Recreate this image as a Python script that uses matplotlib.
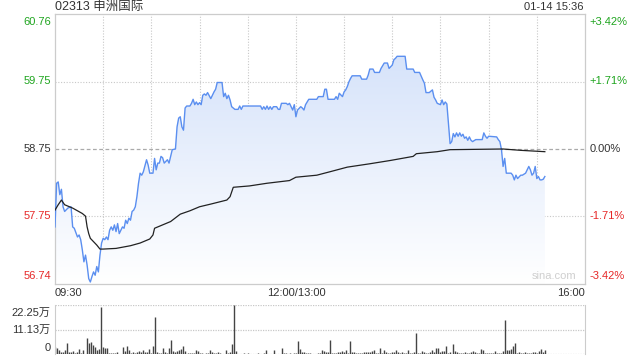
"""Intraday price and volume chart for 02313 申洲国际 (sina style)."""

import matplotlib

matplotlib.use("Agg")
import matplotlib.pyplot as plt
import numpy as np
from matplotlib.colors import LinearSegmentedColormap

TITLE = "02313 申洲国际"
STAMP = "01-14 15:36"
PREV_CLOSE = 58.75
PRICE_LOW = 56.74
PRICE_HIGH = 60.76
VOLUME_MAX = 222500
SESSION_MINUTES = 330

# minutes since 09:30 (lunch break removed) and last price
price_minutes = [
    0, 1, 2, 3, 4, 5, 6, 8, 10, 11, 12, 14, 15, 16, 17, 18, 19, 20, 21, 22,
    23, 24, 25, 26, 27, 28, 29, 30, 31, 32, 33, 34, 35, 36, 37, 38, 39, 40, 42, 43,
    44, 45, 46, 47, 48, 49, 50, 51, 52, 53, 54, 55, 57, 58, 59, 61, 62, 63, 64, 65,
    66, 67, 68, 70, 71, 72, 73, 75, 76, 77, 78, 79, 80, 81, 82, 84, 85, 86, 87, 88,
    89, 90, 91, 92, 93, 94, 95, 97, 98, 99, 100, 101, 104, 105, 106, 107, 108, 109, 110, 111,
    112, 114, 115, 116, 117, 128, 129, 130, 131, 132, 133, 134, 135, 136, 138, 139, 140, 141, 144, 145,
    146, 147, 148, 149, 150, 151, 153, 154, 155, 156, 157, 158, 163, 164, 167, 168, 169, 170, 174, 175,
    176, 177, 179, 180, 181, 182, 183, 184, 185, 190, 191, 194, 195, 196, 198, 199, 202, 203, 205, 207,
    208, 210, 211, 212, 213, 218, 219, 223, 224, 227, 229, 230, 231, 233, 235, 236, 237, 238, 239, 240,
    241, 242, 243, 244, 245, 246, 247, 248, 249, 250, 251, 252, 253, 254, 255, 256, 257, 258, 259, 260,
    262, 266, 267, 268, 269, 270, 275, 276, 277, 278, 279, 280, 281, 284, 285, 286, 287, 288, 290, 291,
    293, 294, 295, 296, 297, 298, 299, 300, 301, 302, 303, 304, 305,
]
price_values = [
    57.59, 58.24, 58.26, 58.07, 58.15, 57.89, 57.82, 57.87, 57.89, 57.59,
    57.57, 57.44, 57.47, 57.40, 57.25, 57.07, 57.17, 57.02, 56.82, 56.77,
    56.85, 56.92, 56.87, 57.00, 56.92, 57.17, 57.35, 57.42, 57.40, 57.44,
    57.40, 57.54, 57.59, 57.54, 57.62, 57.52, 57.64, 57.49, 57.59, 57.57,
    57.69, 57.64, 57.72, 57.69, 57.82, 57.84, 57.89, 58.04, 58.24, 58.39,
    58.36, 58.41, 58.59, 58.51, 58.39, 58.39, 58.61, 58.44, 58.54, 58.54,
    58.64, 58.62, 58.54, 58.59, 58.54, 58.64, 58.74, 58.75, 59.08, 59.21,
    59.23, 59.08, 59.03, 59.36, 59.39, 59.39, 59.43, 59.49, 59.41, 59.45,
    59.41, 59.44, 59.41, 59.55, 59.57, 59.55, 59.59, 59.50, 59.55, 59.60,
    59.64, 59.74, 59.74, 59.53, 59.58, 59.50, 59.55, 59.48, 59.38, 59.36,
    59.34, 59.34, 59.39, 59.34, 59.39, 59.39, 59.34, 59.38, 59.34, 59.39,
    59.34, 59.38, 59.34, 59.38, 59.38, 59.34, 59.34, 59.43, 59.43, 59.41,
    59.43, 59.38, 59.33, 59.41, 59.23, 59.33, 59.38, 59.36, 59.33, 59.41,
    59.45, 59.49, 59.49, 59.53, 59.53, 59.64, 59.64, 59.49, 59.49, 59.53,
    59.49, 59.58, 59.53, 59.60, 59.63, 59.68, 59.75, 59.80, 59.84, 59.84,
    59.79, 59.79, 59.85, 59.94, 59.94, 59.89, 59.89, 59.95, 60.03, 60.03,
    59.95, 60.00, 60.08, 60.10, 60.13, 60.13, 59.94, 59.94, 59.89, 59.89,
    59.78, 59.73, 59.59, 59.59, 59.63, 59.52, 59.48, 59.43, 59.42, 59.41,
    59.48, 59.41, 59.45, 59.42, 59.13, 58.83, 58.86, 58.98, 58.93, 58.99,
    58.94, 58.99, 58.94, 58.97, 58.91, 58.93, 58.88, 58.93, 58.88, 58.86,
    58.89, 58.89, 58.99, 58.94, 58.91, 58.94, 58.93, 58.89, 58.86, 58.74,
    58.49, 58.61, 58.39, 58.39, 58.36, 58.29, 58.36, 58.31, 58.36, 58.36,
    58.39, 58.44, 58.49, 58.44, 58.36, 58.39, 58.49, 58.31, 58.34, 58.29,
    58.29, 58.30, 58.34,
]

# running average price
avg_minutes = [
    0, 2, 4, 6, 9, 11, 14, 17, 19, 20, 21, 22, 24, 26, 28, 30, 38, 47, 53, 59,
    61, 62, 65, 72, 78, 84, 90, 97, 107, 109, 111, 121, 132, 146, 150, 163, 171, 182, 196, 209,
    223, 225, 238, 246, 279, 290, 305,
]
avg_values = [
    57.84, 57.92, 57.99, 57.92, 57.89, 57.87, 57.83, 57.79, 57.75, 57.59,
    57.49, 57.42, 57.37, 57.32, 57.26, 57.26, 57.27, 57.31, 57.35, 57.41,
    57.47, 57.57, 57.60, 57.67, 57.78, 57.83, 57.89, 57.93, 57.99, 58.04,
    58.18, 58.20, 58.24, 58.28, 58.33, 58.36, 58.41, 58.48, 58.53, 58.58,
    58.64, 58.68, 58.71, 58.74, 58.75, 58.73, 58.71,
]

# traded volume per bar, evenly spaced from 09:30 to 15:35
volumes = [
    31600, 27100, 19500, 12000, 12000, 19500, 52600, 12000, 9000, 16500,
    4500, 12000, 24000, 4500, 19500, 3000, 75200, 52600, 57100, 42100,
    34600, 19500, 24000, 211900, 34600, 30100, 27100, 7500, 4500, 7500,
    4500, 12000, 1500, 3000, 34600, 16500, 37600, 19500, 4500, 12000,
    7500, 9000, 16500, 12000, 19500, 12000, 12000, 24000, 7500, 37600,
    169800, 9000, 7500, 4500, 27100, 12000, 7500, 27100, 64600, 16500,
    12000, 16500, 19500, 22500, 37600, 16500, 7500, 4500, 4500, 7500,
    19500, 16500, 4500, 7500, 3000, 7500, 7500, 19500, 12000, 7500,
    4500, 9000, 7500, 1500, 3000, 19500, 7500, 12000, 46600, 222400,
    15000, 1500, 1500, 3000, 4500, 1500, 4500, 1500, 1500, 3000,
    1500, 4500, 1500, 3000, 4500, 19500, 1500, 3000, 1500, 19500,
    1500, 1500, 1500, 27100, 7500, 4500, 1500, 7500, 3000, 4500,
    4500, 60100, 24000, 12000, 12000, 4500, 7500, 7500, 1500,
    1500, 1500, 4500, 4500, 19500, 16500, 9000, 12000, 64600, 4500,
    4500, 7500, 9000, 12000, 15000, 9000, 19500, 4500, 60100, 12000,
    12000, 7500, 4500, 4500, 4500, 12000, 9000, 12000, 9000, 15000,
    19500, 7500, 7500, 27100, 4500, 19500, 12000, 4500, 4500, 12000,
    9000, 19500, 12000, 7500, 9000, 4500, 7500, 19500, 4500, 7500,
    9000, 97700, 7500, 4500, 16500, 12000, 7500, 4500, 12000, 19500,
    12000, 27100, 30100, 12000, 16500, 15000, 37600, 7500, 12000, 46600,
    16500, 12000, 4500, 4500, 7500, 12000, 7500, 4500, 12000, 16500,
    12000, 7500, 4500, 22500, 19500, 7500, 4500, 7500, 7500, 4500,
    16500, 4500, 4500, 7500, 15000, 154800, 19500, 19500, 22500, 37600,
    52600, 7500, 12000, 4500, 7500, 12000, 4500, 4500, 7500, 12000,
    9000, 7500, 16500, 22500, 12000, 19500,
]

left_ticks = ["60.76", "59.75", "58.75", "57.75", "56.74"]
right_ticks = ["+3.42%", "+1.71%", "0.00%", "-1.71%", "-3.42%"]
tick_colors = ["#1fa51f", "#1fa51f", "#333333", "#e62828", "#e62828"]
volume_ticks = ["22.25万", "11.13万", "0"]

LINE_BLUE = "#5b8ff0"
GRID = "#c8c8c8"
FONT = ["Liberation Sans", "Noto Sans CJK SC", "DejaVu Sans"]

plt.rcParams["font.family"] = FONT

figure = plt.figure(figsize=(6.4, 3.6), dpi=100)
price_ax = figure.add_axes([55 / 640, 1 - 284 / 360, 530 / 640, 270 / 360])
volume_ax = figure.add_axes([55 / 640, 1 - 354.3 / 360, 530 / 640, 49.3 / 360])

# price panel
price_ax.set_xlim(0, SESSION_MINUTES)
price_ax.set_ylim(PRICE_LOW, PRICE_HIGH)
for minute in range(30, SESSION_MINUTES, 30):
    price_ax.axvline(minute, color=GRID, lw=0.8, ls=(0, (1, 1.5)), zorder=0)
mid_upper = (PRICE_HIGH + PREV_CLOSE) / 2
mid_lower = (PRICE_LOW + PREV_CLOSE) / 2
for level in (mid_upper, mid_lower):
    price_ax.axhline(level, color=GRID, lw=0.8, ls=(0, (1, 1.5)), zorder=0)
price_ax.axhline(PREV_CLOSE, color="#aaaaaa", lw=0.9, ls=(0, (3, 2)), zorder=0)

# gradient fill below the price line
fill = price_ax.fill_between(price_minutes, price_values, PRICE_LOW, color="none", lw=0)
gradient_cmap = LinearSegmentedColormap.from_list("fade", ["#ffffff", "#d6e3fa"])
gradient = np.linspace(0, 1, 256).reshape(-1, 1)
image = price_ax.imshow(
    gradient,
    cmap=gradient_cmap,
    aspect="auto",
    origin="lower",
    extent=(0, SESSION_MINUTES, PRICE_LOW, PRICE_HIGH - 0.6),
    zorder=1,
)
image.set_clip_path(fill.get_paths()[0], transform=price_ax.transData)
price_ax.set_ylim(PRICE_LOW, PRICE_HIGH)

price_ax.plot(price_minutes, price_values, color=LINE_BLUE, lw=1.0, zorder=3)
price_ax.plot(avg_minutes, avg_values, color="#222222", lw=0.9, zorder=4)

price_ax.set_xticks([])
price_ax.set_yticks([])
for spine in price_ax.spines.values():
    spine.set_color("#cccccc")
    spine.set_linewidth(0.9)

tick_levels = [PRICE_HIGH, mid_upper, PREV_CLOSE, mid_lower, PRICE_LOW]
for level, left, right, color in zip(tick_levels, left_ticks, right_ticks, tick_colors):
    if level == PRICE_HIGH:
        va, offset = "top", -2
    elif level == PRICE_LOW:
        va, offset = "bottom", 2
    else:
        va, offset = "center", 0
    price_ax.annotate(left, (0, level), xycoords=("axes fraction", "data"),
                      xytext=(-3, offset), textcoords="offset points",
                      ha="right", va=va, fontsize=8, color=color)
    price_ax.annotate(right, (1, level), xycoords=("axes fraction", "data"),
                      xytext=(3, offset), textcoords="offset points",
                      ha="left", va=va, fontsize=8, color=color)

figure.text(55 / 640, 1 - 7 / 360, TITLE, ha="left", va="center", fontsize=9, color="#333333")
figure.text(583 / 640, 1 - 7 / 360, STAMP, ha="right", va="center", fontsize=8, color="#333333")
figure.text(55 / 640, 1 - 293 / 360, "09:30", ha="left", va="center", fontsize=8, color="#333333")
figure.text(296 / 640, 1 - 293 / 360, "12:00/13:00", ha="center", va="center", fontsize=8, color="#333333")
figure.text(585 / 640, 1 - 293 / 360, "16:00", ha="right", va="center", fontsize=8, color="#333333")
price_ax.text(0.983, 0.012, "sina.com", transform=price_ax.transAxes, ha="right", va="bottom",
              fontsize=8, color="#cfcfcf")

# volume panel
volume_minutes = np.linspace(0, 305, len(volumes))
volume_ax.vlines(volume_minutes, 0, volumes, color="#444444", lw=1.0)
volume_ax.set_xlim(0, SESSION_MINUTES)
volume_ax.set_ylim(0, VOLUME_MAX)
for level in (VOLUME_MAX, VOLUME_MAX / 2, 0):
    volume_ax.axhline(level, color=GRID, lw=0.9, ls=(0, (1, 1)), zorder=0)
volume_ax.set_xticks([])
volume_ax.set_yticks([])
volume_ax.spines["top"].set_visible(False)
volume_ax.spines["bottom"].set_visible(False)
volume_ax.spines["left"].set_color("#cccccc")
volume_ax.spines["right"].set_color("#cccccc")

volume_levels = [VOLUME_MAX, VOLUME_MAX / 2, 0]
volume_shifts = [-2, 0, 1]
volume_aligns = ["top", "center", "bottom"]
for level, label, y_shift, va in zip(volume_levels, volume_ticks, volume_shifts, volume_aligns):
    volume_ax.annotate(label, (0, level), xycoords=("axes fraction", "data"),
                       xytext=(-3, y_shift), textcoords="offset points",
                       ha="right", va=va, fontsize=8, color="#333333")

figure.savefig("out.png", dpi=100)
